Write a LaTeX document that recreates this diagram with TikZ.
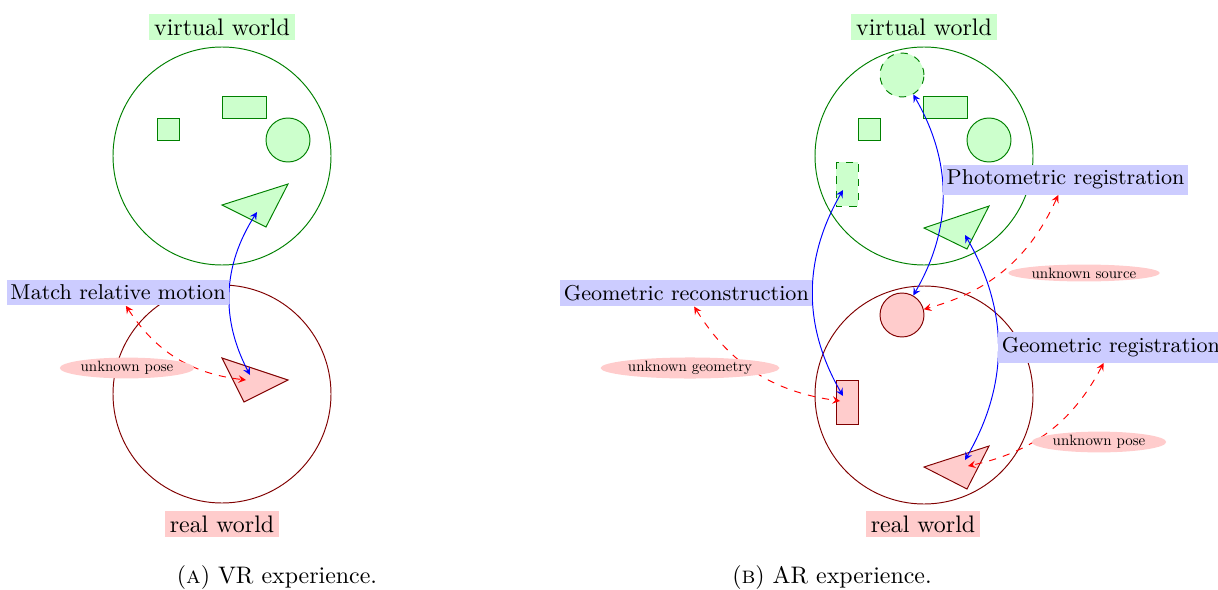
\documentclass[tikz,border=0pt]{standalone}
\usetikzlibrary{shapes.geometric}
\newcommand\smalltxt[1]{\scalebox{0.625}{#1}}
\tikzset{
  worldlbl/.style={inner sep=2pt, font=\normalsize, text=black},
  vlbl/.style={worldlbl, fill=green!20},
  rlbl/.style={worldlbl, fill=red!20},
  tasklbl/.style={fill=blue!20, inner xsep=1.5pt, inner ysep=2.2pt, font=\small, text=black},
  unk/.style={ellipse, fill=red!20, inner xsep=0.5pt, inner ysep=0.3pt, font=\normalsize, text=black},
  vshape/.style={draw=green!50!black, fill=green!20},
  rshape/.style={draw=red!50!black, fill=red!20},
  vworld/.style={draw=green!50!black},
  rworld/.style={draw=red!50!black},
  roundobj/.style={circle, minimum size=18.4pt, inner sep=0pt},
  link/.style={blue, <->, >=stealth},
  unklink/.style={red, dashed, <->, >=stealth},
}
\begin{document}
\begin{tikzpicture}[x=0.4184pt, y=0.4184pt]
\useasboundingbox (0,0) rectangle (1218,-590);
% ---------------- (a) VR ----------------
\draw[vworld] (222,-156) circle (109);
\draw[rworld] (222,-394) circle (109);
\node[vlbl] (vwA) at (222,-27) {virtual world};
\node[rlbl] (rwA) at (222,-524) {real world};
\draw[vshape] (157,-118) rectangle (179,-140);
\draw[vshape] (222,-96) rectangle (266,-118);
\draw[vshape] (288,-140) circle (22);
\draw[vshape] (222,-205) -- (288,-184) -- (266,-227) -- cycle;
\draw[rshape] (222,-358) -- (288,-380) -- (244,-402) -- cycle;
\coordinate (gtA) at (257,-212);
\coordinate (rtA) at (250,-375);
\coordinate (rtA2) at (246,-380);
\draw[link] (rtA) to[bend left=30] node[midway, left, tasklbl] (mrm) {Match relative motion} (gtA);
\draw[unklink] (mrm) to[bend right=25] (rtA2);
\node[unk] (upA) at (127,-368) {\smalltxt{unknown pose}};
\node (capA) at (277,-578) {(\textsc{a}) VR experience.};
% ---------------- (b) AR ----------------
\draw[vworld] (924,-156) circle (109);
\draw[rworld] (924,-395) circle (109);
\node[vlbl] (vwB) at (924,-27) {virtual world};
\node[rlbl] (rwB) at (923,-524) {real world};
\draw[vshape] (858,-118) rectangle (880,-140);
\draw[vshape] (923,-96) rectangle (967,-118);
\draw[vshape] (989,-140) circle (22);
\node[roundobj, vshape, dashed] (vcB) at (902,-75) {};
\draw[vshape, dashed] (836,-162) rectangle (858,-206);
\draw[vshape] (924,-228) -- (989,-206) -- (967,-249) -- cycle;
\node[roundobj, rshape] (rcB) at (902,-315) {};
\draw[rshape] (836,-380) rectangle (858,-424);
\draw[rshape] (924,-467) -- (989,-446) -- (967,-489) -- cycle;
\coordinate (rrB) at (843,-396);
\coordinate (rrB2) at (840,-401);
\coordinate (vrB) at (843,-190);
\coordinate (rtB) at (965,-460);
\coordinate (rtB2) at (968,-466);
\coordinate (vtB) at (965,-235);
\draw[link] (rrB) to[bend left=30] node[midway, left, tasklbl] (grec) {Geometric reconstruction} (vrB);
\draw[link] (rcB) to[bend right=30] node[midway, above right, tasklbl] (pr) {Photometric registration} (vcB);
\draw[link] (rtB) to[bend right=30] node[midway, right, tasklbl] (greg) {Geometric registration} (vtB);
\draw[unklink] (grec) to[bend right=25] (rrB2);
\node[unk] (ugB) at (690,-368) {\smalltxt{unknown geometry}};
\draw[unklink] (pr) to[bend left=25] (rcB);
\node[unk] (usB) at (1084,-273) {\smalltxt{unknown source}};
\draw[unklink] (greg) to[bend left=25] (rtB2);
\node[unk] (upB) at (1099,-442) {\smalltxt{unknown pose}};
\node (capB) at (832,-578) {(\textsc{b}) AR experience.};
\end{tikzpicture}
\end{document}
